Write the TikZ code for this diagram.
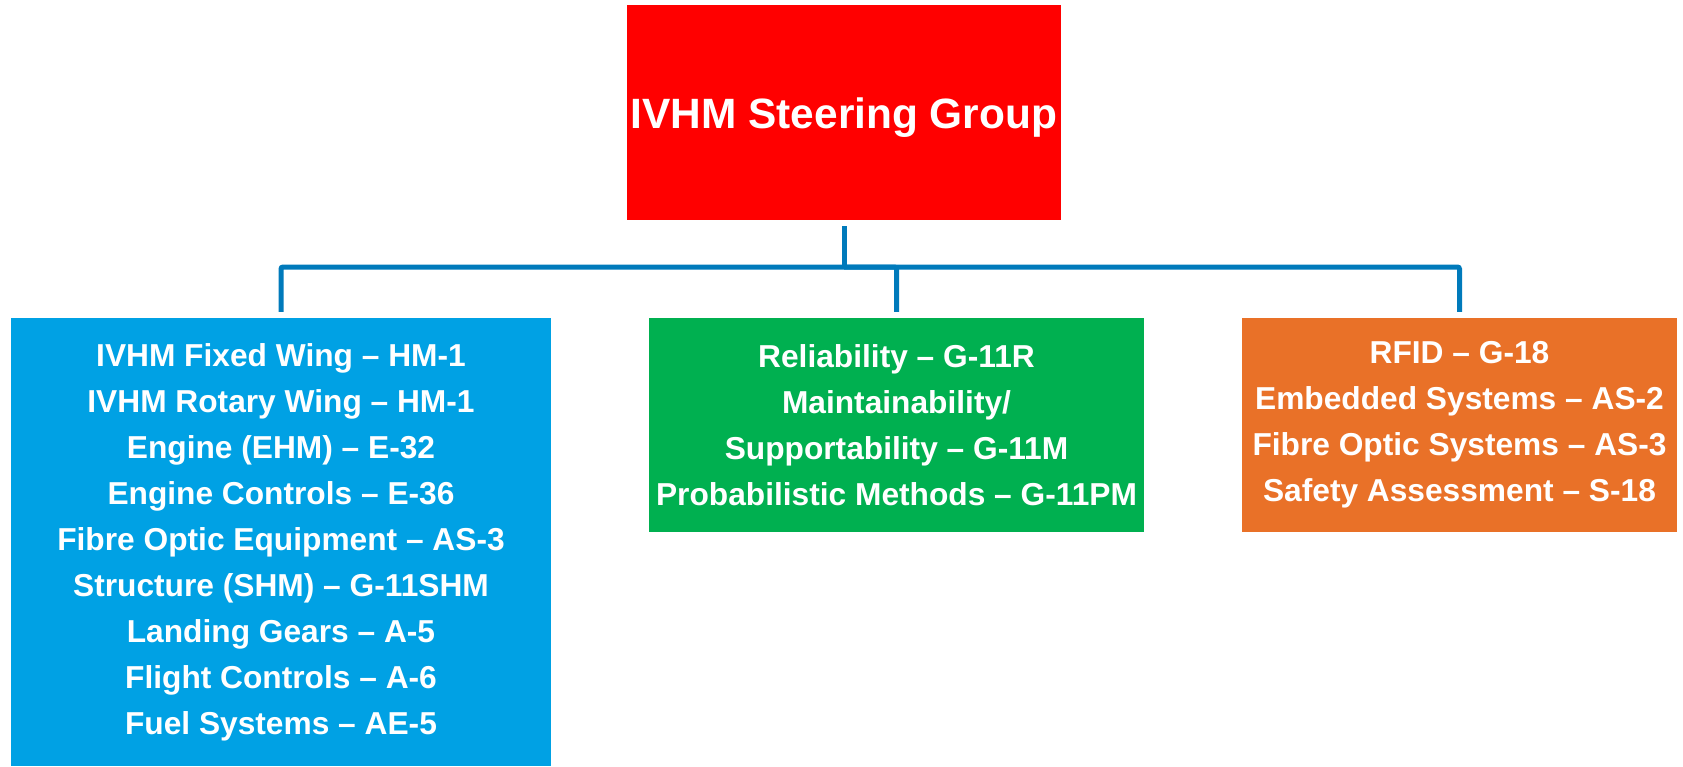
\documentclass[tikz,border=0pt]{standalone}
\usepackage{fontspec}
\setmainfont{Liberation Sans}
\definecolor{steerred}{RGB}{255,0,0}
\definecolor{wingblue}{RGB}{0,161,228}
\definecolor{relgreen}{RGB}{0,176,80}
\definecolor{sysorange}{RGB}{233,113,40}
\definecolor{linkblue}{RGB}{0,122,187}
\begin{document}
\begin{tikzpicture}[x=1pt, y=-1pt,
    box/.style  = {rectangle, inner sep=0pt, text=white, align=center,
                   font=\bfseries\fontsize{31.7}{46}\selectfont,
                   execute at begin node={\rule{0pt}{0.95em}}},
    link/.style = {draw=linkblue, line width=5pt, rounded corners=2pt}]
        \useasboundingbox (0,0) rectangle (1683,766);
        \node[box, fill=steerred,  minimum width=434pt, minimum height=215pt,
              font=\bfseries\fontsize{42.4}{50}\selectfont]
              (steer)   at ( 844,  112.5) {IVHM Steering Group};
        \node[box, fill=wingblue,  minimum width=540pt, minimum height=448pt]
              (groups)  at ( 281,  542) {IVHM Fixed Wing -- HM-1\\
                                          IVHM Rotary Wing -- HM-1\\
                                          Engine (EHM) -- E-32\\
                                          Engine Controls -- E-36\\
                                          Fibre Optic Equipment -- AS-3\\
                                          Structure (SHM) -- G-11SHM\\
                                          Landing Gears -- A-5\\
                                          Flight Controls -- A-6\\
                                          Fuel Systems -- AE-5};
        \node[box, fill=relgreen,  minimum width=495pt, minimum height=214pt]
              (rams)    at ( 896.5, 425) {Reliability -- G-11R\\
                                          Maintainability/\\
                                          Supportability -- G-11M\\
                                          Probabilistic Methods -- G-11PM};
        \node[box, fill=sysorange, minimum width=435pt, minimum height=214pt]
              (systems) at (1459.5, 425) {RFID -- G-18\\
                                          Embedded Systems -- AS-2\\
                                          Fibre Optic Systems -- AS-3\\
                                          Safety Assessment -- S-18};
        \coordinate (bus) at (844, 267);
        \draw[link] ([yshift=-6pt]steer.south) -- (bus);
        \draw[link] (bus) -| ([yshift=6pt]groups.north);
        \draw[link] (bus) -| ([yshift=6pt]rams.north);
        \draw[link] (bus) -| ([yshift=6pt]systems.north);
      \end{tikzpicture}
\end{document}
